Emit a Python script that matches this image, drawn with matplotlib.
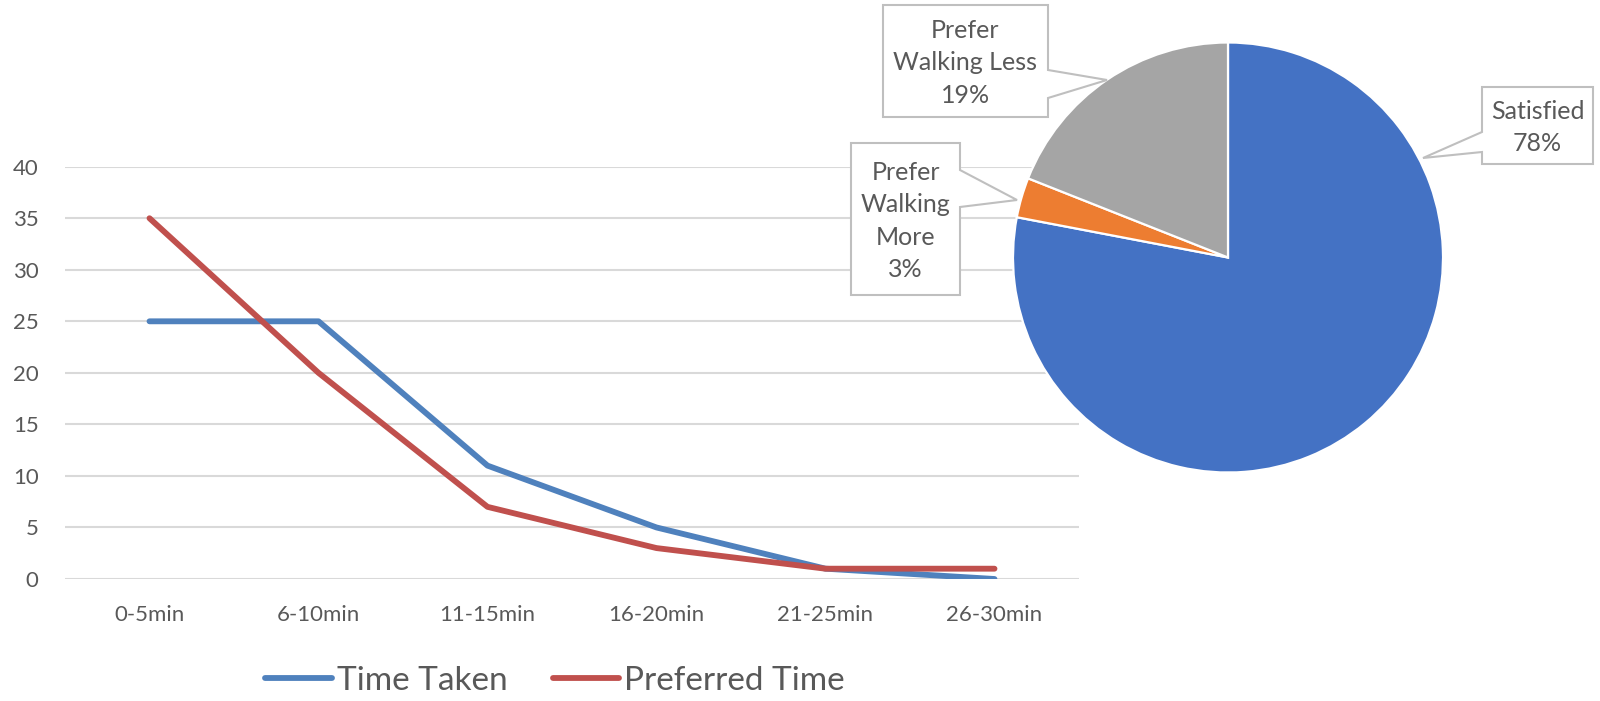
import matplotlib.pyplot as plt
from matplotlib.patches import Polygon

plt.rcParams['font.family'] = ['Lato', 'DejaVu Sans']

# line chart data
categories = ['0-5min', '6-10min', '11-15min', '16-20min', '21-25min', '26-30min']
time_taken = [25, 25, 11, 5, 1, 0]
preferred_time = [35, 20, 7, 3, 1, 1]

# pie data
pie_labels = ['Satisfied', 'Prefer\nWalking\nMore', 'Prefer\nWalking Less']
pie_values = [78, 3, 19]
pie_colors = ['#4472C4', '#ED7D31', '#A5A5A5']

W, H = 1600, 701
text_col = '#595959'


def px(x, y):
    # pixel position (from top-left) -> figure fraction
    return x / W, 1 - y / H


fig = plt.figure(figsize=(16, 7.01), dpi=100)

# line chart
ax = fig.add_axes([65 / W, 122 / H, (1079 - 65) / W, (579 - 166.7) / H])
x = list(range(len(categories)))
ax.plot(x, time_taken, color='#4F81BD', lw=4.2, solid_capstyle='round',
        solid_joinstyle='round', label='Time Taken', zorder=3)
ax.plot(x, preferred_time, color='#C0504D', lw=4.2, solid_capstyle='round',
        solid_joinstyle='round', label='Preferred Time', zorder=3)
ax.set_xlim(-0.5, len(categories) - 0.5)
ax.set_ylim(0, 40)
ax.set_yticks(range(0, 41, 5))
ax.set_xticks(x)
ax.set_xticklabels(categories)
ax.yaxis.grid(True, color='#D9D9D9', lw=1.5)
ax.set_axisbelow(True)
for s in ax.spines.values():
    s.set_visible(False)
ax.tick_params(axis='both', length=0, labelsize=16, labelcolor=text_col)
ax.tick_params(axis='y', pad=19)
ax.tick_params(axis='x', pad=19)

fig.legend(loc='center', bbox_to_anchor=(555 / W, 20 / H), ncol=2, frameon=False,
           fontsize=24, labelcolor=text_col, handlelength=2.0, handletextpad=0.15,
           columnspacing=1.35)

# pie chart
cx, cy, r = 1228, 257.5, 215
pax = fig.add_axes([(cx - r) / W, (H - cy - r) / H, 2 * r / W, 2 * r / H])
pax.pie(pie_values, colors=pie_colors, startangle=90, counterclock=False, radius=1,
        wedgeprops=dict(edgecolor='white', linewidth=1.6))
pax.set_xlim(-1, 1)
pax.set_ylim(-1, 1)
pax.set_aspect('equal')
pax.axis('off')


def callout(box, tip, side, ya, yb, text, pct):
    x0, y0, x1, y1 = box
    if side == 'right':
        pts = [(x0, y0), (x1, y0), (x1, ya), tip, (x1, yb), (x1, y1), (x0, y1)]
    else:
        pts = [(x0, y0), (x1, y0), (x1, y1), (x0, y1), (x0, yb), tip, (x0, ya)]
    poly = Polygon([px(*p) for p in pts], closed=True, transform=fig.transFigure,
                   facecolor='white', edgecolor='#BFBFBF', lw=1.5, zorder=5)
    fig.patches.append(poly)
    tx, ty = px((x0 + x1) / 2, (y0 + y1) / 2 + 2)
    fig.text(tx, ty, text + '\n' + pct, ha='center', va='center', fontsize=18,
             color=text_col, linespacing=1.5, zorder=6)


callout((1482, 87, 1593, 164), (1423, 158), 'left', 132, 152,
        pie_labels[0], '%d%%' % pie_values[0])
callout((851, 143, 960, 295), (1017, 200), 'right', 170, 207,
        pie_labels[1], '%d%%' % pie_values[1])
callout((883, 5, 1048, 117), (1107, 80), 'right', 70, 98,
        pie_labels[2], '%d%%' % pie_values[2])

fig.savefig('out.png', dpi=100)
